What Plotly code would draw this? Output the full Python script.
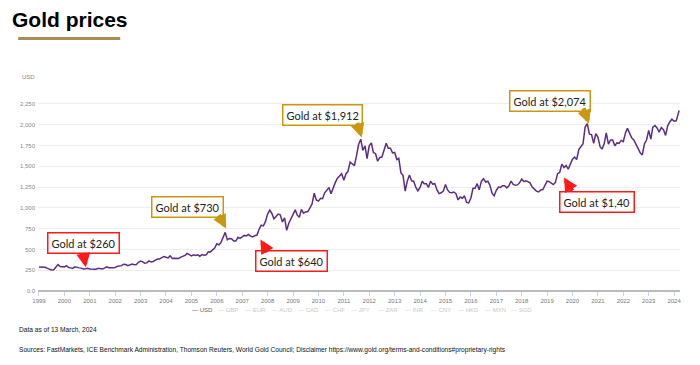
import plotly.graph_objects as go
import pandas as pd

# ---------------- data ----------------
# Monthly gold price, USD/oz, Jan 1999 .. Mar 2024
usd_prices = [
    288, 287, 280, 285, 272, 262, 252, 255, 290, 317, 295, 290,            # 1999
    290, 305, 282, 278, 272, 290, 282, 278, 275, 265, 268, 274,            # 2000
    265, 262, 258, 262, 272, 270, 266, 275, 290, 280, 275, 278,            # 2001
    282, 298, 300, 305, 322, 318, 305, 312, 323, 317, 318, 345,            # 2002
    360, 350, 335, 338, 362, 348, 355, 372, 385, 385, 398, 415,            # 2003
    405, 398, 422, 390, 395, 395, 392, 408, 415, 428, 452, 438,            # 2004
    422, 435, 428, 435, 418, 438, 430, 435, 472, 470, 495, 515,            # 2005
    568, 555, 582, 644, 705, 615, 632, 628, 600, 600, 645, 632,            # 2006
    650, 668, 662, 680, 660, 650, 665, 672, 742, 790, 782, 834,            # 2007
    925, 971, 935, 868, 895, 925, 915, 830, 880, 730, 815, 870,            # 2008
    920, 975, 915, 885, 980, 935, 950, 955, 1000, 1045, 1175, 1095,        # 2009
    1080, 1115, 1110, 1180, 1210, 1245, 1170, 1245, 1305, 1355, 1385, 1410,  # 2010
    1330, 1410, 1435, 1550, 1530, 1505, 1620, 1760, 1825, 1690, 1745, 1590,  # 2011
    1745, 1780, 1665, 1650, 1560, 1605, 1610, 1680, 1775, 1715, 1715, 1660,  # 2012
    1665, 1580, 1595, 1420, 1390, 1200, 1320, 1395, 1325, 1320, 1245, 1205,  # 2013
    1245, 1320, 1290, 1290, 1245, 1320, 1285, 1290, 1215, 1170, 1180, 1200,  # 2014
    1280, 1215, 1185, 1180, 1190, 1170, 1095, 1130, 1115, 1145, 1065, 1060,  # 2015
    1115, 1235, 1235, 1290, 1215, 1320, 1350, 1310, 1320, 1270, 1175, 1145,  # 2016
    1210, 1250, 1245, 1265, 1265, 1240, 1265, 1320, 1280, 1270, 1275, 1300,  # 2017
    1345, 1315, 1325, 1315, 1300, 1250, 1225, 1200, 1190, 1215, 1220, 1280,  # 2018
    1320, 1315, 1295, 1280, 1305, 1410, 1425, 1525, 1485, 1510, 1465, 1515,  # 2019
    1585, 1610, 1580, 1700, 1730, 1770, 1970, 2010, 1885, 1880, 1775, 1890,  # 2020
    1850, 1735, 1705, 1770, 1900, 1765, 1815, 1815, 1745, 1780, 1775, 1810,  # 2021
    1795, 1900, 1955, 1900, 1840, 1815, 1755, 1715, 1660, 1635, 1770, 1815,  # 2022
    1930, 1825, 1970, 1990, 1960, 1910, 1965, 1940, 1870, 1985, 2035, 2065,  # 2023
    2040, 2045, 2170,                                                       # 2024
]
dates = list(pd.date_range("1999-01-01", periods=len(usd_prices) - 1, freq="MS")) + [pd.Timestamp("2024-03-13")]

x_tick_years = list(range(1999, 2025))
x_tick_text = [str(y) for y in x_tick_years]
y_tick_vals = [0, 250, 500, 750, 1000, 1250, 1500, 1750, 2000, 2250, 2500]
y_tick_text = ["0.0", "250", "500", "750", "1,000", "1,250", "1,500", "1,750", "2,000", "2,250", ""]

currencies = ["USD", "GBP", "EUR", "AUD", "CAD", "CHF", "JPY", "ZAR", "INR", "CNY", "HKD", "MXN", "SGD"]

callout_texts = ["Gold at $260", "Gold at $730", "Gold at $640",
                 "Gold at $1,912", "Gold at $2,074", "Gold at $1,40"]
callout_kinds = ["red", "gold", "red", "gold", "gold", "red"]

# ---------------- style ----------------
OFF = 8                      # page body margin of the browser
W, H = 700 - OFF, 365 - OFF
PLOT_L, PLOT_R, PLOT_T, PLOT_B = 32, 680, 83, 291.4   # plot box in window pixels
L, R, T, B = PLOT_L - OFF, W - (PLOT_R - OFF), PLOT_T - OFF, H - (PLOT_B - OFF)
PW, PH = PLOT_R - PLOT_L, PLOT_B - PLOT_T

def px(xpix):
    return (xpix - PLOT_L) / PW

def py(ypix):
    return (PLOT_B - ypix) / PH

PURPLE = "#5C2D83"
RED = "#FF1A1A"
GOLD = "#C9980E"
colmap = {"red": RED, "gold": GOLD}

fig = go.Figure()
fig.add_trace(go.Scatter(
    x=dates, y=usd_prices, mode="lines",
    line=dict(color=PURPLE, width=1.5),
    name="USD", showlegend=False, hoverinfo="skip",
))

fig.update_layout(
    width=W, height=H,
    margin=dict(l=L, r=R, t=T, b=B, pad=0),
    paper_bgcolor="white", plot_bgcolor="white",
    showlegend=False,
    title=dict(text="Gold prices", x=(12 - OFF) / W, xanchor="left", xref="container",
               y=1 - (20 - OFF) / H, yanchor="middle", yref="container",
               font=dict(family="Liberation Sans, Arial", size=21, color="#000", weight="bold")),
)

fig.update_xaxes(
    type="date",
    range=["1998-12-18", "2024-03-26"],
    tickvals=[pd.Timestamp(f"{y}-01-01") for y in x_tick_years],
    ticktext=x_tick_text,
    showgrid=False, zeroline=False,
    showline=False,
    ticks="outside", ticklen=4, tickcolor="#C9D3E6", tickwidth=1,
    tickfont=dict(family="Liberation Sans, Arial", size=6, color="#777"),
    fixedrange=True,
)
fig.update_yaxes(
    range=[0, 2500],
    tickvals=y_tick_vals, ticktext=y_tick_text,
    showgrid=True, gridcolor="#EEEEEE", gridwidth=1,
    zeroline=True, zerolinecolor="#BBBBBB", zerolinewidth=1.5,
    showline=False, ticks="",
    ticklabelstandoff=2,
    tickfont=dict(family="Liberation Sans, Arial", size=6, color="#888"),
    fixedrange=True,
)

ann = []
# USD axis unit
ann.append(dict(text="USD", xref="paper", yref="paper", x=px(31), y=py(77),
                xanchor="right", yanchor="middle", showarrow=False,
                font=dict(family="Liberation Sans, Arial", size=6, color="#888")))

# callout boxes (center in data coords) and arrows (tip in data coords, tail offset in px)
box_pos = [("2000-09-27", 582), ("2004-10-31", 1008), ("2008-12-15", 359),
           ("2010-02-25", 2120), ("2019-02-06", 2283), ("2020-12-15", 1075)]
arrow_pos = [("2000-11-05", 285, -3, -16), ("2006-05-15", 750, -8, -15),
             ("2007-09-20", 620, 8, 14), ("2011-09-15", 1845, -5, -16),
             ("2020-08-25", 2010, -6, -17), ("2019-09-01", 1365, 9, 15)]

for txt, kind, (bx, by) in zip(callout_texts, callout_kinds, box_pos):
    c = colmap[kind]
    ann.append(dict(text=txt, x=bx, y=by, xref="x", yref="y", showarrow=False,
                    xanchor="center", yanchor="middle",
                    font=dict(family="Lato, Open Sans", size=11, color="#222"),
                    bgcolor="white", bordercolor=c, borderwidth=1.5, borderpad=3))
for kind, (axd, ayv, dx, dy) in zip(callout_kinds, arrow_pos):
    c = colmap[kind]
    ann.append(dict(text="", x=axd, y=ayv, xref="x", yref="y", showarrow=True,
                    ax=dx, ay=dy, axref="pixel", ayref="pixel",
                    arrowhead=2, arrowsize=0.62, arrowwidth=4.5, arrowcolor=c, standoff=0))

# custom compact legend
for i, cur in enumerate(currencies):
    xpix = 185 + i * 26.9
    col = PURPLE if i == 0 else "#D5D5D5"
    tcol = "#666" if i == 0 else "#C8C8C8"
    ann.append(dict(text=f"<span style='color:{col}'>\u2014</span> <span style='color:{tcol}'>{cur}</span>",
                    xref="paper", yref="paper", x=px(xpix), y=py(310),
                    xanchor="left", yanchor="middle", showarrow=False,
                    font=dict(family="Liberation Sans, Arial", size=6, color=tcol)))

# footnotes
foot_font = dict(family="Liberation Sans, Arial", size=6.6, color="#111")
ann.append(dict(text="Data as of 13 March, 2024", xref="paper", yref="paper",
                x=px(11), y=py(330), xanchor="left", yanchor="middle", showarrow=False,
                font=foot_font))
ann.append(dict(text="Sources: FastMarkets, ICE Benchmark Administration, Thomson Reuters, World Gold Council; "
                     "Disclaimer https://www.gold.org/terms-and-conditions#proprietary-rights",
                xref="paper", yref="paper",
                x=px(11), y=py(351), xanchor="left", yanchor="middle", showarrow=False,
                font=foot_font))

fig.update_layout(annotations=ann)

# title underline
fig.add_shape(type="rect", xref="paper", yref="paper",
              x0=px(12), x1=px(115), y0=py(40), y1=py(37),
              fillcolor="#A88D55", line=dict(width=0))

fig.write_html("out.html")
